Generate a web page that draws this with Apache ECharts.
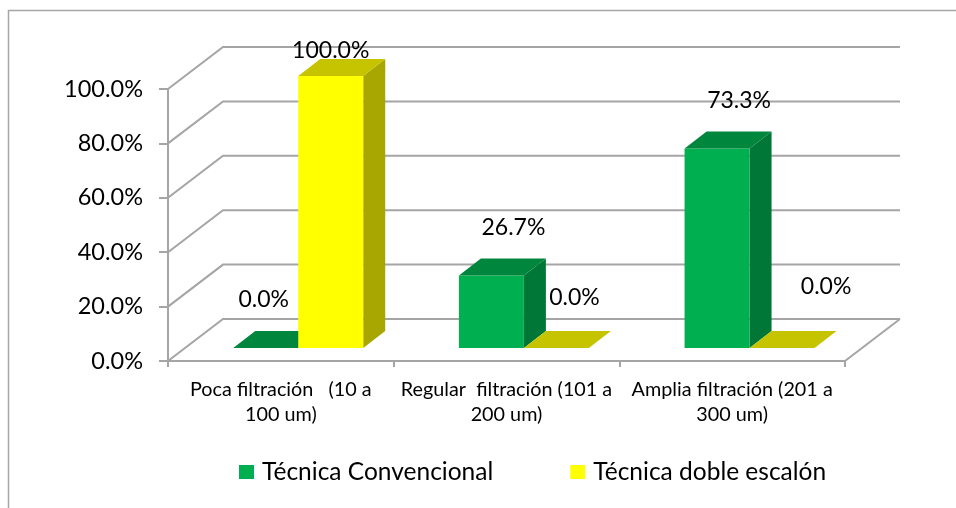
<!DOCTYPE html>
<html>
<head>
<meta charset="utf-8">
<script src="https://cdn.jsdelivr.net/npm/echarts@6/dist/echarts.min.js"></script>
<style>
  html, body { margin: 0; padding: 0; background: #fff; }
  #chart { width: 956px; height: 508px; }
</style>
</head>
<body>
<div id="chart"></div>
<script>
// ---- Data ----
const categories = [
  'Poca filtración   (10 a\n100 um)',
  'Regular  filtración (101 a\n200 um)',
  'Amplia filtración (201 a\n300 um)'
];
const seriesNames = ['Técnica Convencional', 'Técnica doble escalón'];
const convencional = [0.0, 26.7, 73.3];
const dobleEscalon = [100.0, 0.0, 0.0];
const yTicks = [0, 20, 40, 60, 80, 100];

// ---- Styles / 3D geometry ----
const FONT = 'Lato';
const GRID_COLOR = '#A5A5A5';
const DEPTH = [55, -42];          // floor / wall depth offset
const BAR_FRONT = [17.4, -13];    // bar front plane offset from chart front
const BAR_DEPTH = [22, -17];      // bar thickness
const BAR_FRAC = 0.288;           // bar width as fraction of category band
const palettes = [
  { front: '#00B050', top: '#00863D', side: '#007736' },
  { front: '#FFFF00', top: '#C6C300', side: '#A8A600' }
];
const labelNudge = { '1-0': [-22, 23], '0-0': [-24, 0], '1-1': [-4, -2], '1-2': [22, -13] };

function fmtPct(v) { return v.toFixed(1) + '%'; }

function wallsRender(params, api) {
  const cs = params.coordSys;
  const v = api.value(1);
  const y = api.coord([0, v])[1];
  const x0 = cs.x, x1 = cs.x + cs.width;
  const style = { stroke: GRID_COLOR, lineWidth: 2, fill: null };
  const children = [{
    type: 'polyline',
    shape: { points: [[x0, y], [x0 + DEPTH[0], y + DEPTH[1]], [x1 + DEPTH[0], y + DEPTH[1]]] },
    style: style
  }];
  if (v === 0) {
    children.push({
      type: 'polyline',
      shape: { points: [[x1, y], [x1 + DEPTH[0], y + DEPTH[1]]] },
      style: style
    });
  }
  return { type: 'group', children: children };
}

function makeBarRender(k) {
  return function (params, api) {
    const i = api.value(0);
    const v = api.value(1);
    const base = api.coord([i, 0]);
    const topY = api.coord([i, v])[1] + BAR_FRONT[1];
    const botY = base[1] + BAR_FRONT[1];
    const band = api.size([1, 0])[0];
    const w = band * BAR_FRAC;
    const fl = base[0] - w + k * w + BAR_FRONT[0];
    const fr = fl + w;
    const dx = BAR_DEPTH[0], dy = BAR_DEPTH[1];
    const pal = palettes[k];
    const children = [];
    if (botY - topY > 0.5) {
      children.push({
        type: 'polygon',
        shape: { points: [[fr, topY], [fr, botY], [fr + dx, botY + dy], [fr + dx, topY + dy]] },
        style: { fill: pal.side }
      });
      children.push({
        type: 'rect',
        shape: { x: fl, y: topY, width: w, height: botY - topY },
        style: { fill: pal.front }
      });
    }
    children.push({
      type: 'polygon',
      shape: { points: [[fl, topY], [fr, topY], [fr + dx, topY + dy], [fl + dx, topY + dy]] },
      style: { fill: pal.top }
    });
    const nud = labelNudge[k + '-' + i] || [0, 0];
    children.push({
      type: 'text',
      z2: 10,
      style: {
        text: fmtPct(v),
        x: fl + w / 2 + dx + nud[0],
        y: topY + dy - 31 + nud[1],
        align: 'center',
        verticalAlign: 'middle',
        font: '23px ' + FONT,
        fill: '#000'
      }
    });
    return { type: 'group', children: children };
  };
}

const chart = echarts.init(document.getElementById('chart'), null, { renderer: 'canvas' });
chart.setOption({
  animation: false,
  backgroundColor: '#fff',
  graphic: [{
    type: 'rect',
    shape: { x: 8.5, y: 10.5, width: 1000, height: 1000 },
    style: { fill: null, stroke: '#A6A6A6', lineWidth: 1.5 },
    silent: true
  }],
  grid: { left: 168, right: 111, top: 89, bottom: 147, containLabel: false },
  legend: {
    data: seriesNames,
    left: 239,
    top: 458,
    padding: 0,
    icon: 'rect',
    itemWidth: 15,
    itemHeight: 14,
    itemGap: 77,
    textStyle: { fontFamily: FONT, fontSize: 24.5, color: '#000', lineHeight: 28, padding: [0, 0, 0, 3] }
  },
  xAxis: {
    type: 'category',
    data: categories,
    boundaryGap: true,
    axisLine: { show: true, lineStyle: { color: GRID_COLOR, width: 2 } },
    axisTick: { show: true, length: 6, lineStyle: { color: GRID_COLOR, width: 2 } },
    axisLabel: { fontFamily: FONT, fontSize: 19.8, color: '#000', lineHeight: 25, margin: 16, interval: 0 },
    splitLine: { show: false }
  },
  yAxis: {
    type: 'value',
    min: 0,
    max: 100,
    interval: 20,
    axisLine: { show: true, lineStyle: { color: GRID_COLOR, width: 2 } },
    axisTick: { show: true, length: 9, lineStyle: { color: GRID_COLOR, width: 2 } },
    axisLabel: { fontFamily: FONT, fontSize: 23.5, color: '#000', margin: 25, formatter: function (v) { return fmtPct(v); } },
    splitLine: { show: false }
  },
  series: [
    {
      type: 'custom',
      name: 'walls',
      silent: true,
      z: 1,
      clip: false,
      renderItem: wallsRender,
      encode: { x: 0, y: 1 },
      data: yTicks.map(function (v) { return [0, v]; })
    },
    {
      type: 'custom',
      name: seriesNames[0],
      z: 2,
      clip: false,
      itemStyle: { color: palettes[0].front },
      renderItem: makeBarRender(0),
      encode: { x: 0, y: 1 },
      data: convencional.map(function (v, i) { return [i, v]; })
    },
    {
      type: 'custom',
      name: seriesNames[1],
      z: 3,
      clip: false,
      itemStyle: { color: palettes[1].front },
      renderItem: makeBarRender(1),
      encode: { x: 0, y: 1 },
      data: dobleEscalon.map(function (v, i) { return [i, v]; })
    }
  ]
});
</script>
</body>
</html>
